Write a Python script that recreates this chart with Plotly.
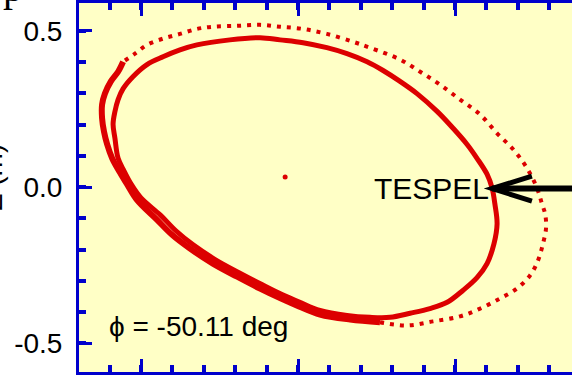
import plotly.graph_objects as go

# Poincare puncture traces of the field line (R, Z in metres)
inner_r = [2.911, 2.917, 2.927, 2.943, 2.975, 3.019, 3.070, 3.124, 3.178, 3.283,
           3.379, 3.443, 3.516, 3.592, 3.656, 3.720, 3.771, 3.825, 3.879, 3.943,
           3.994, 4.038, 4.070, 4.102, 4.118, 4.127, 4.134, 4.124, 4.102, 4.070,
           4.025, 3.975, 3.920, 3.857, 3.793, 3.729, 3.656, 3.570, 3.506, 3.449,
           3.385, 3.312, 3.236, 3.166, 3.111, 3.061, 3.000, 2.968, 2.946, 2.927,
           2.917, 2.911]
inner_z = [0.201, 0.242, 0.280, 0.315, 0.354, 0.392, 0.417, 0.439, 0.455, 0.471,
           0.478, 0.471, 0.462, 0.446, 0.427, 0.401, 0.373, 0.338, 0.299, 0.242,
           0.188, 0.137, 0.092, 0.041, -0.003, -0.054, -0.118, -0.182, -0.245, -0.290,
           -0.331, -0.369, -0.389, -0.404, -0.417, -0.417, -0.411, -0.395, -0.369, -0.344,
           -0.312, -0.274, -0.232, -0.185, -0.140, -0.089, -0.035, 0.010, 0.051, 0.092,
           0.156, 0.201]

# outer surface: sparse punctures (bottom -> outboard side -> top)
outer_sparse_r = [3.761, 3.847, 3.930, 4.016, 4.080, 4.143, 4.197, 4.239, 4.264, 4.280,
                  4.290, 4.287, 4.277, 4.261, 4.229, 4.185, 4.134, 4.080, 4.016, 3.952,
                  3.889, 3.825, 3.729, 3.675, 3.592, 3.516, 3.443, 3.379, 3.306, 3.229,
                  3.178, 3.124, 3.070, 3.019, 2.981, 2.943]
outer_sparse_z = [-0.433, -0.443, -0.430, -0.414, -0.389, -0.357, -0.325, -0.283, -0.236, -0.182,
                  -0.131, -0.086, -0.054, -0.003, 0.061, 0.121, 0.172, 0.232, 0.280, 0.328,
                  0.369, 0.408, 0.446, 0.465, 0.490, 0.506, 0.513, 0.519, 0.516, 0.513,
                  0.506, 0.490, 0.475, 0.455, 0.427, 0.401]

# outer surface: dense punctures (inboard side -> bottom)
outer_dense_r = [2.943, 2.927, 2.904, 2.885, 2.876, 2.876, 2.882, 2.892, 2.908, 2.930,
                 2.955, 2.987, 3.048, 3.099, 3.156, 3.229, 3.306, 3.379, 3.446, 3.503,
                 3.570, 3.666, 3.761]
outer_dense_z = [0.401, 0.369, 0.338, 0.299, 0.264, 0.220, 0.178, 0.137, 0.092, 0.051,
                 0.010, -0.041, -0.102, -0.153, -0.197, -0.245, -0.287, -0.325, -0.357, -0.382,
                 -0.408, -0.424, -0.433]

# magnetic axis
axis_r = [3.459]
axis_z = [0.032]

# TESPEL injection point and arrow head geometry
tespel_r = 4.118
tespel_z = -0.005
head_r = 4.245
head_dz = 0.04

y_tickvals = [-0.5, 0.0, 0.5]
y_ticktext = ["-0.5", "0.0", "0.5"]
x_tickvals = [3.0, 3.5, 4.0]

x_range = [2.8025, 4.3726]
y_range = [-0.592, 0.589]

RED = "#DC0000"
BLUE = "#0000CC"
BG = "#FFFFC6"
FONT = "Liberation Sans, Arial, sans-serif"

fig = go.Figure()
fig.add_trace(go.Scatter(x=outer_dense_r, y=outer_dense_z, mode="lines",
                         line=dict(color=RED, width=6, shape="spline"),
                         hoverinfo="skip", showlegend=False))
fig.add_trace(go.Scatter(x=outer_sparse_r, y=outer_sparse_z, mode="lines",
                         line=dict(color=RED, width=4, shape="spline", dash="4px,6px"),
                         hoverinfo="skip", showlegend=False))
fig.add_trace(go.Scatter(x=inner_r, y=inner_z, mode="lines",
                         line=dict(color=RED, width=5, shape="spline"),
                         hoverinfo="skip", showlegend=False))
fig.add_trace(go.Scatter(x=axis_r, y=axis_z, mode="markers",
                         marker=dict(color=RED, size=5),
                         hoverinfo="skip", showlegend=False))

# arrow pointing at the injection point
fig.add_shape(type="line", xref="x", yref="y", x0=tespel_r, y0=tespel_z,
              x1=x_range[1] + 0.05, y1=tespel_z, line=dict(color="black", width=6))
fig.add_shape(type="path", xref="x", yref="y",
              path=f"M {head_r},{tespel_z + head_dz} L {tespel_r},{tespel_z} L {head_r},{tespel_z - head_dz}",
              line=dict(color="black", width=5))

fig.add_annotation(x=tespel_r - 0.002, y=tespel_z, xref="x", yref="y", text="TESPEL",
                   showarrow=False, xanchor="right", yanchor="middle",
                   font=dict(family=FONT, size=30, color="black"))
fig.add_annotation(x=2.892, y=-0.446, xref="x", yref="y", text="\u03d5 = -50.11 deg",
                   showarrow=False, xanchor="left", yanchor="middle",
                   font=dict(family=FONT, size=28, color="black"))
fig.add_annotation(x=-0.140, y=0.528, xref="paper", yref="paper", text="Z (m)",
                   textangle=-90, showarrow=False, xanchor="right", yanchor="middle",
                   font=dict(family=FONT, size=28, color="black"))
fig.add_annotation(x=-0.134, y=0.975, xref="paper", yref="paper", text="p",
                   showarrow=False, xanchor="center", yanchor="bottom",
                   font=dict(family="Liberation Serif, Times New Roman, serif", size=40, color="black"))

tick_common = dict(ticks="inside", tickcolor=BLUE, showgrid=False, zeroline=False)

fig.update_layout(
    width=572, height=375,
    margin=dict(l=79, r=0, t=1, b=3),
    paper_bgcolor="white", plot_bgcolor=BG,
    xaxis=dict(range=x_range, tickvals=x_tickvals, showticklabels=False,
               ticklen=13, tickwidth=3, showline=True, linecolor=BLUE, linewidth=3,
               mirror="ticks",
               minor=dict(tick0=0, dtick=0.1, ticks="inside", ticklen=7, tickwidth=4,
                          tickcolor=BLUE, showgrid=False),
               **tick_common),
    yaxis=dict(range=y_range, tickvals=y_tickvals, ticktext=y_ticktext,
               ticklen=13, tickwidth=3, showline=True, linecolor=BLUE, linewidth=3,
               mirror=False, ticklabelstandoff=8,
               tickfont=dict(family=FONT, size=28, color="black"),
               minor=dict(tick0=0, dtick=0.1, ticks="inside", ticklen=7, tickwidth=4,
                          tickcolor=BLUE, showgrid=False),
               **tick_common),
    yaxis2=dict(range=y_range, overlaying="y", side="right", anchor="x",
                tickvals=y_tickvals, showticklabels=False, showline=False,
                ticklen=7, tickwidth=3,
                minor=dict(tick0=0, dtick=0.1, ticks="inside", ticklen=2, tickwidth=4,
                           tickcolor=BLUE, showgrid=False),
                **tick_common),
)

fig.write_html("out.html")
